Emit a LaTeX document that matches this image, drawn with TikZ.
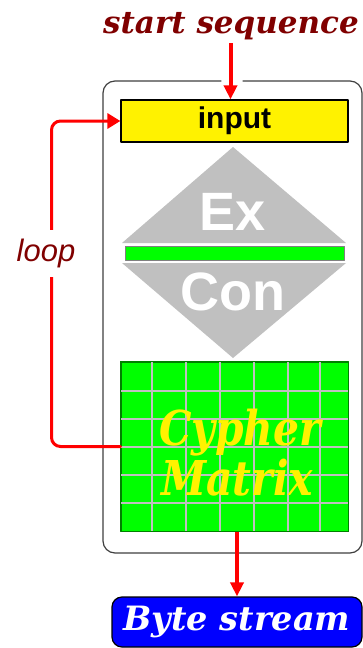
\documentclass[tikz,border=0pt]{standalone}
\usepackage{fontspec}
\setmainfont{DejaVu Serif}
\setsansfont{Liberation Sans}
\usepackage{graphicx}
\usepackage{tikz}
\usetikzlibrary{arrows.meta}
\usetikzlibrary{positioning}
\definecolor{maroon}{HTML}{800000}
\definecolor{brightgreen}{HTML}{00FF00}
\definecolor{darkgreen}{HTML}{008000}
\definecolor{silver}{HTML}{C0C0C0}
\definecolor{framegray}{HTML}{404040}
\definecolor{pureblue}{HTML}{0000FF}
\tikzset{
  redarrow/.style={red,line width=4pt,line cap=butt,-{Triangle[width=13pt,length=14pt]}},
  looparrow/.style={red,line width=3pt,-{Triangle[width=15pt,length=13pt]}},
  frameline/.style={framegray,line width=1.2pt,rounded corners=12pt},
  inputbox/.style={draw=black,fill=yellow,line width=1.2pt,minimum width=227pt,minimum height=42pt,inner sep=0pt,font=\sffamily\bfseries\fontsize{30}{30}\selectfont},
  exconlabel/.style={white,inner sep=0pt,font=\sffamily\bfseries\fontsize{54}{54}\selectfont},
  matrixbox/.style={draw=darkgreen,fill=brightgreen,line width=1pt,minimum width=227pt,minimum height=169pt,inner sep=0pt},
  gridline/.style={silver,line width=1.2pt},
  matrixlabel/.style={yellow,inner sep=0pt,anchor=base,font=\bfseries\itshape\fontsize{48}{48}\selectfont},
  looplabel/.style={maroon,fill=white,inner xsep=2pt,inner ysep=0pt,minimum height=47pt,font=\sffamily\itshape\fontsize{31}{31}\selectfont},
  starttext/.style={maroon,inner sep=0pt,anchor=base west,font=\bfseries\itshape\fontsize{31}{31}\selectfont},
  bytebox/.style={draw=black,fill=pureblue,text=white,line width=1.2pt,rounded corners=10pt,minimum width=250pt,minimum height=50pt,inner sep=0pt,font=\bfseries\itshape\fontsize{33.5}{33.5}\selectfont}
}
\begin{document}
\begin{tikzpicture}[line cap=round,line join=round,x=1pt,y=-1pt]
\clip (0,0) rectangle (363,648);
\fill[white] (0,0) rectangle (363,648);
\draw[frameline] (243,81) -| (362,553) -| (103,81) -- (221,81);
\node[starttext] (start) at (103,33) {start sequence};
\node[inputbox] (input) at (234.5,121) {input};
\fill[silver] (233,147) -- (346,243) -- (122,243) -- cycle;
\fill[silver] (122,263) -- (346,263) -- (233,358) -- cycle;
\draw[fill=brightgreen,draw=gray,line width=1pt] (125,246) rectangle (344,260);
\node[exconlabel] (ex) at (233,211.5) {Ex};
\node[exconlabel] (con) at (233,292) {Con};
\node[matrixbox] (matrix) at (234.5,446.5) {};
\foreach \x in {152,186,220,254,288,320}
  \draw[gridline] (matrix.north -| \x,0) -- (matrix.south -| \x,0);
\foreach \y in {391,419,447,475,503}
  \draw[gridline] (matrix.west |- 0,\y) -- (matrix.east |- 0,\y);
\draw[darkgreen,line width=1pt] (matrix.north west) rectangle (matrix.south east);
\node[matrixlabel] (cypher) at (240,445) {\scalebox{0.85}[1]{Cypher}};
\node[matrixlabel] (matrixtext) at (237,495) {\scalebox{0.85}[1]{Matrix}};
\node[bytebox] (byte) at (237,622) {Byte stream};
\coordinate (top) at (230.5,43);
\draw[redarrow] (top) -- (top |- input.north);
\draw[redarrow] (matrix.south -| byte.north) -- (byte.north);
\draw[looparrow,rounded corners=9pt] (matrix.west) -- ++(-69,0) |- (input.west);
\node[looplabel] (loop) at (46,253.5) {loop};
\end{tikzpicture}
\end{document}
